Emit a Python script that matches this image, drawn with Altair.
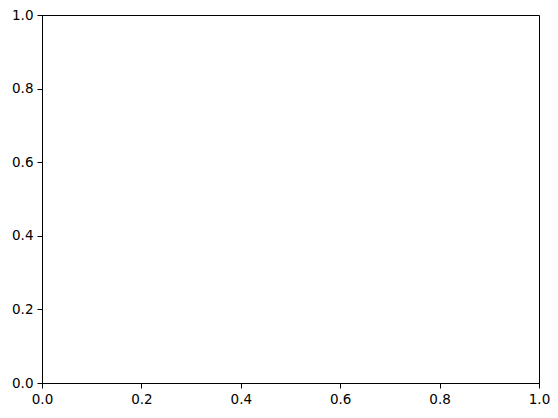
import altair as alt
import pandas as pd

# Empty axes: no data series, only axis limits and tick labels
x_values = []
y_values = []
x_domain = [0.0, 1.0]
y_domain = [0.0, 1.0]
tick_values = [0.0, 0.2, 0.4, 0.6, 0.8, 1.0]

df = pd.DataFrame({"x": pd.Series(x_values, dtype=float),
                   "y": pd.Series(y_values, dtype=float)})

axis_common = dict(
    values=tick_values, format=".1f", grid=False, title=None,
    domainColor="black", domainWidth=1, tickColor="black", tickWidth=1,
    tickSize=5, labelPadding=4, labelColor="black", labelFontSize=13.5,
    labelFont="DejaVu Sans", labelFontWeight="normal",
)

chart = alt.Chart(df).mark_point().encode(
    x=alt.X("x:Q", scale=alt.Scale(domain=x_domain, nice=False, zero=False),
            axis=alt.Axis(**axis_common, labelFlush=False)),
    y=alt.Y("y:Q", scale=alt.Scale(domain=y_domain, nice=False, zero=False),
            axis=alt.Axis(**axis_common, labelFlush=False)),
).properties(
    width=497, height=368,
    background="white",
    autosize=alt.AutoSizeParams(type="none"),
    padding={"left": 34, "top": 7, "right": 11, "bottom": 22},
).configure_view(
    stroke="black", strokeWidth=1, fill="white"
)

chart.save("out.html", embed_options={"renderer": "svg", "actions": False})
